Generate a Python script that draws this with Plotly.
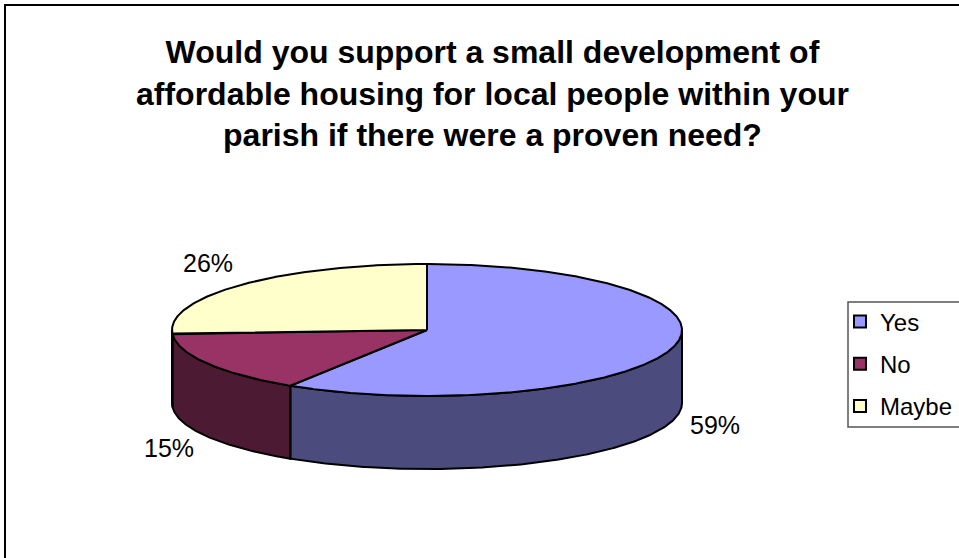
import numpy as np
import plotly.graph_objects as go

# ---- data ----
categories = ["Yes", "No", "Maybe"]
values = [59, 15, 26]
top_colors = ["#9999FF", "#993366", "#FFFFCC"]
side_colors = ["#4B4B7E", "#4D1A33", "#80805F"]
title_lines = [
    "Would you support a small development of",
    "affordable housing for local people within your",
    "parish if there were a proven need?",
]

# ---- geometry (pixel space of the 959x558 page) ----
W, H = 959, 558
cx, cy, rx, ry, depth = 427, 330, 255, 66, 73
FONT = "Liberation Sans, Arial, sans-serif"

total = float(sum(values))
cum = np.cumsum([0] + values) / total * 360.0
starts, ends = cum[:-1], cum[1:]


def arc(a0, a1):
    n = max(int(abs(a1 - a0) * 2) + 2, 3)
    t = np.radians(np.linspace(a0, a1, n))
    return cx + rx * np.sin(t), cy - ry * np.cos(t)


fig = go.Figure()

# side walls (front half only: 90..270 deg clockwise from 12 o'clock)
for i in range(len(values)):
    a0 = max(starts[i], 90.0)
    a1 = min(ends[i], 270.0)
    if a1 <= a0:
        continue
    x, y = arc(a0, a1)
    xs = np.concatenate([x, x[::-1], x[:1]])
    ys = np.concatenate([y, y[::-1] + depth, y[:1]])
    fig.add_trace(go.Scatter(
        x=xs, y=ys, mode="lines", fill="toself", fillcolor=side_colors[i],
        line=dict(color="black", width=2), hoverinfo="skip", showlegend=False))

# top faces
for i in range(len(values)):
    x, y = arc(starts[i], ends[i])
    xs = np.concatenate([[cx], x, [cx]])
    ys = np.concatenate([[cy], y, [cy]])
    fig.add_trace(go.Scatter(
        x=xs, y=ys, mode="lines", fill="toself", fillcolor=top_colors[i],
        line=dict(color="black", width=2), hoverinfo="skip", showlegend=False))

# legend entries
for i, c in enumerate(categories):
    fig.add_trace(go.Scatter(
        x=[None], y=[None], mode="markers", name=c, legendgroup=c,
        marker=dict(symbol="square", size=14, color=top_colors[i],
                    line=dict(color="black", width=1.5))))

# percentage labels
annotations = []
for i, v in enumerate(values):
    mid = np.radians((starts[i] + ends[i]) / 2.0)
    lx = cx + (rx + 45) * np.sin(mid)
    ly = cy - (ry + 32) * np.cos(mid)
    if np.cos(mid) < 0:
        ly += depth * 0.93
    annotations.append(dict(
        x=lx, y=ly, xref="x", yref="y", text=f"{v}%", showarrow=False,
        font=dict(family=FONT, size=25, color="black"),
        xanchor="center", yanchor="middle"))

annotations.append(dict(
    x=492, y=32, xref="x", yref="y", text="<br>".join(title_lines),
    showarrow=False, xanchor="center", yanchor="top", align="center",
    font=dict(family=FONT, size=32, color="black", weight="bold")))

fig.update_layout(
    width=W, height=H, autosize=False,
    margin=dict(l=0, r=0, t=0, b=0, pad=0, autoexpand=False),
    paper_bgcolor="white", plot_bgcolor="white",
    xaxis=dict(range=[0, W], visible=False, fixedrange=True),
    yaxis=dict(range=[H, 0], visible=False, fixedrange=True),
    annotations=annotations,
    showlegend=True,
    legend=dict(x=840 / W, y=1 - 299.5 / H, xanchor="left", yanchor="top",
                borderwidth=0, bgcolor="rgba(0,0,0,0)",
                font=dict(family=FONT, size=24, color="black"),
                traceorder="grouped", tracegroupgap=8, itemsizing="constant"),
    shapes=[
        dict(type="rect", xref="paper", yref="paper",
             x0=5 / W, x1=1.2, y0=-0.2, y1=1 - 5 / H,
             line=dict(color="black", width=2), fillcolor="rgba(0,0,0,0)",
             layer="below"),
        dict(type="rect", xref="paper", yref="paper",
             x0=848 / W, x1=1.05, y0=1 - 427 / H, y1=1 - 302 / H,
             line=dict(color="#555555", width=1.5), fillcolor="white",
             layer="below"),
    ],
)

fig.write_html("out.html")
